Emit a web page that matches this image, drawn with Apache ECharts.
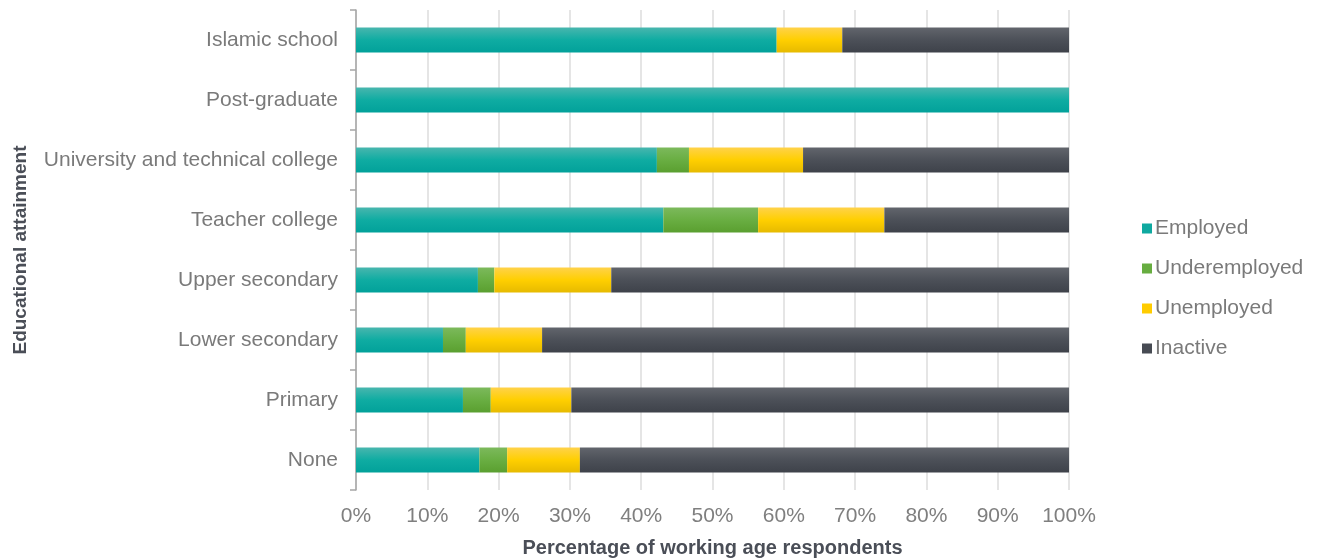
<!DOCTYPE html>
<html>
<head>
<meta charset="utf-8">
<script src="https://cdn.jsdelivr.net/npm/echarts@6/dist/echarts.min.js"></script>
<style>
html,body{margin:0;padding:0;background:#fff;}
#main{width:1320px;height:560px;}
</style>
</head>
<body>
<div id="main"></div>
<script>
// categories, top to bottom
var categories = ['Islamic school', 'Post-graduate', 'University and technical college', 'Teacher college',
    'Upper secondary', 'Lower secondary', 'Primary', 'None'];
var employed = [59.0, 100, 42.2, 43.1, 17.1, 12.2, 15.0, 17.3];
var underemployed = [0, 0, 4.5, 13.3, 2.3, 3.2, 3.9, 3.9];
var unemployed = [9.2, 0, 16.0, 17.7, 16.4, 10.7, 11.3, 10.2];
var inactive = [31.8, 0, 37.3, 25.9, 64.2, 73.9, 69.8, 68.6];
var seriesNames = ['Employed', 'Underemployed', 'Unemployed', 'Inactive'];

var myChart = echarts.init(document.getElementById('main'));

function grad(top, mid, bottom) {
    return new echarts.graphic.LinearGradient(0, 0, 0, 1, [
        {offset: 0, color: top},
        {offset: 0.5, color: mid},
        {offset: 1, color: bottom}
    ]);
}
var colors = [
    grad('#48b6ae', '#0faca2', '#02a19a'),
    grad('#7cb95c', '#69ae42', '#5a9f30'),
    grad('#ffd24a', '#ffcf00', '#e6ba00'),
    grad('#62656c', '#4c5058', '#3e424a')
];
var legendColors = ['#0fa9a0', '#67ad40', '#ffcc00', '#474b53'];
var values = [employed, underemployed, unemployed, inactive];

var series = seriesNames.map(function (name, i) {
    return {
        name: name,
        type: 'bar',
        stack: 'total',
        barWidth: 25,
        data: values[i],
        itemStyle: {color: colors[i]},
        emphasis: {disabled: true}
    };
});

var option = {
    animation: false,
    textStyle: {fontFamily: 'Liberation Sans, Arial, sans-serif'},
    grid: {left: 356, right: 251, top: 10, bottom: 70, outerBoundsMode: 'none'},
    legend: {
        orient: 'vertical',
        left: 1137,
        top: 213,
        itemGap: 19,
        itemWidth: 10,
        itemHeight: 10,
        icon: 'rect',
        data: seriesNames.map(function (n, i) {
            return {name: n, itemStyle: {color: legendColors[i]}};
        }),
        textStyle: {fontSize: 21, color: '#7a7a7a', padding: [0, 0, 0, -2]}
    },
    xAxis: {
        type: 'value',
        min: 0,
        max: 100,
        interval: 10,
        name: 'Percentage of working age respondents',
        nameLocation: 'middle',
        nameGap: 48,
        nameTextStyle: {fontSize: 20, fontWeight: 'bold', color: '#4a4e57'},
        axisLine: {show: false},
        axisTick: {show: false},
        axisLabel: {fontSize: 21, color: '#7f7f7f', margin: 16, formatter: '{value}%'},
        splitLine: {show: true, lineStyle: {color: '#dcdcdc', width: 1.5}}
    },
    yAxis: {
        type: 'category',
        inverse: true,
        data: categories,
        name: 'Educational attainment',
        nameLocation: 'middle',
        nameGap: 326,
        nameTextStyle: {fontSize: 19, fontWeight: 'bold', color: '#4a4e57'},
        axisLine: {show: true, lineStyle: {color: '#a6a6a6', width: 1.5}},
        axisTick: {show: true, length: 6, lineStyle: {color: '#a6a6a6', width: 1.5}},
        axisLabel: {fontSize: 21, color: '#7a7a7a', margin: 18}
    },
    series: series
};
myChart.setOption(option);
</script>
</body>
</html>
